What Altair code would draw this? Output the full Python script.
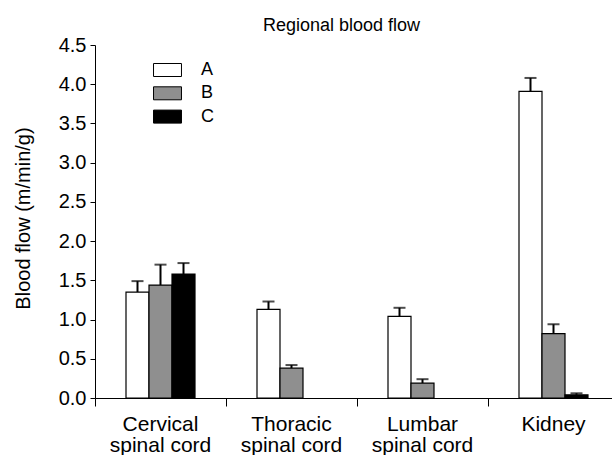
import altair as alt
import pandas as pd

categories = ["Cervical spinal cord", "Thoracic spinal cord", "Lumbar spinal cord", "Kidney"]
groups = ["A", "B", "C"]
a_mean = [1.35, 1.13, 1.04, 3.91]
a_err = [0.14, 0.10, 0.11, 0.17]
b_mean = [1.44, 0.38, 0.19, 0.82]
b_err = [0.26, 0.04, 0.05, 0.12]
c_mean = [1.58, None, None, 0.04]
c_err = [0.14, None, None, 0.02]
y_ticks = [0, 0.5, 1.0, 1.5, 2.0, 2.5, 3.0, 3.5, 4.0, 4.5]
fills = ["#ffffff", "#8f8f8f", "#000000"]

rows = []
for g, means, errs in zip(groups, [a_mean, b_mean, c_mean], [a_err, b_err, c_err]):
    for cat, m, e in zip(categories, means, errs):
        if m is None:
            continue
        rows.append({"region": cat, "group": g, "mean": m, "upper": m + e})
df = pd.DataFrame(rows)

FONT = "Liberation Sans"

x = alt.X(
    "region:N",
    sort=categories,
    scale=alt.Scale(range=[0, 524], paddingInner=0, paddingOuter=0),
    axis=alt.Axis(
        title=None,
        labelAngle=0,
        bandPosition=0,
        tickSize=8,
        tickWidth=1,
        tickColor="black",
        domainColor="black",
        domainWidth=1,
        labelPadding=7,
        labelFontSize=21,
        labelFont=FONT,
        labelColor="black",
        labelLineHeight=21,
        labelBaseline="top",
        labelExpr="indexof(datum.label, ' spinal') > 0 ? [replace(datum.label, ' spinal cord', ''), 'spinal cord'] : datum.label",
    ),
)
xo = alt.XOffset("group:N", sort=groups, scale=alt.Scale(range=[31, 100], paddingOuter=0, paddingInner=0))
y_axis = alt.Axis(
    values=y_ticks,
    format=".1f",
    tickSize=5,
    tickColor="black",
    domainColor="black",
    labelPadding=4,
    labelFontSize=20,
    labelFont=FONT,
    labelColor="black",
    labelOverlap=False,
    title="Blood flow (m/min/g)",
    titleFont=FONT,
    titleFontSize=20,
    titleFontWeight="normal",
    titleColor="black",
    titleX=-66,
    titleY=173,
    titleBaseline="alphabetic",
    titleAlign="center",
)
y_scale = alt.Scale(domain=[0, 4.5], nice=False, zero=True)
y_mean = alt.Y("mean:Q", scale=y_scale, axis=y_axis)
y_upper = alt.Y("upper:Q", scale=y_scale, axis=y_axis)

bars = alt.Chart().mark_bar(stroke="black", strokeWidth=1.2).encode(
    x=x,
    xOffset=xo,
    y=y_mean,
    fill=alt.Fill(
        "group:N",
        sort=groups,
        scale=alt.Scale(domain=groups, range=fills),
        legend=alt.Legend(
            title=None,
            orient="none",
            legendX=63.5,
            legendY=16,
            symbolType="M-2.15,-1H2.15V1H-2.15Z",
            symbolSize=169,
            symbolStrokeColor="black",
            symbolStrokeWidth=1,
            symbolOpacity=1,
            labelFontSize=18,
            labelFont=FONT,
            labelColor="black",
            labelOffset=24.5,
            rowPadding=5.3,
            padding=0,
        ),
    ),
)

rules = alt.Chart().mark_rule(color="black", strokeWidth=2).encode(
    x=x, xOffset=xo, y=y_mean, y2="upper:Q"
)
caps = alt.Chart().mark_tick(color="black", thickness=2, size=12, orient="horizontal").encode(
    x=x, xOffset=xo, y=y_upper
)

chart = (
    alt.layer(rules, caps, bars, data=df)
    .properties(
        width=517,
        height=353,
        autosize="none",
        padding={"left": 95, "top": 45, "right": 0, "bottom": 57},
        title=alt.Title(
            "Regional blood flow",
            fontSize=18,
            fontWeight="normal",
            font=FONT,
            color="black",
            anchor="middle",
            dx=-12,
            offset=0,
        ),
    )
    .configure_view(stroke=None)
    .configure_axis(grid=False)
)

chart.save("out.html", embed_options={"renderer": "svg", "actions": False})
